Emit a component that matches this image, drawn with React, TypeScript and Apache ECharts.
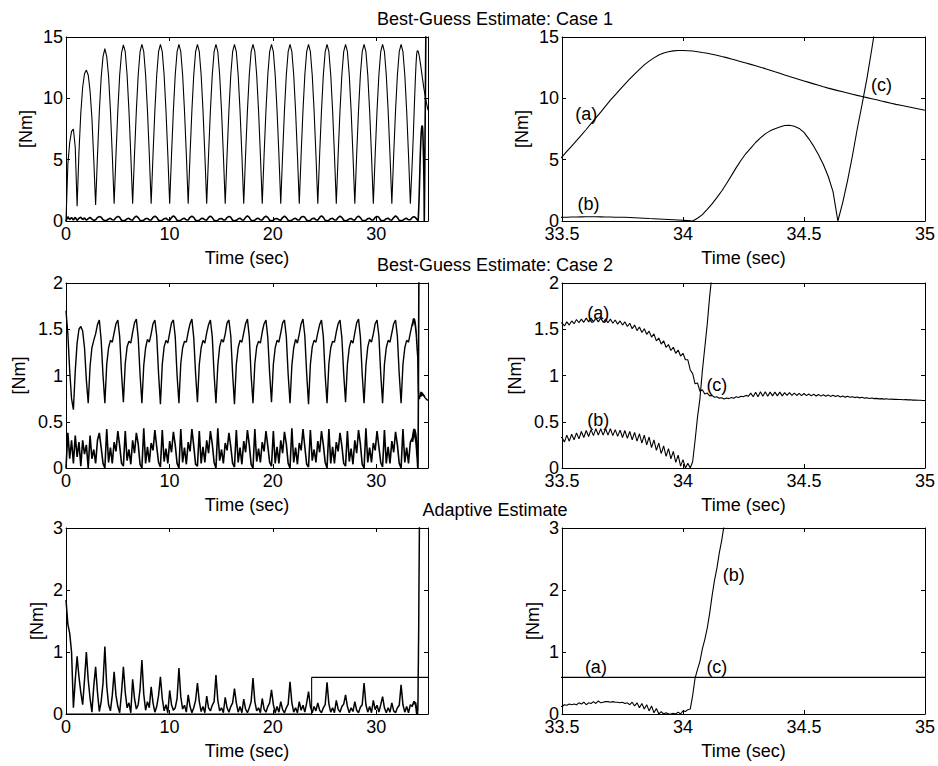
import React, { useEffect, useRef } from "react";
import * as echarts from "echarts";

// ---------- sampling of the traces (seconds) ----------
const BODY_STEP = 0.179; // coarse samples, t = 0, 0.179, 0.358, ...
const FINE_START = 33.5; // fine samples start here
const CASE1_FINE_STEP = 0.02;
const FINE_STEP = 0.01;

// ---------- texts / axes ----------
const TITLES = ["Best-Guess Estimate: Case 1", "Best-Guess Estimate: Case 2", "Adaptive Estimate"];
const X_NAME = "Time (sec)";
const Y_NAME = "[Nm]";
const LEFT_X_RANGE = [0, 35, 10];
const RIGHT_X_RANGE = [33.5, 35, 0.5];
const Y_RANGES = [
  [0, 15, 5],
  [0, 2, 0.5],
  [0, 3, 1],
];

// ---------- Case 1 ----------
const CASE1_A_BODY = [
  0, 4.6, 6.4, 7.3, 7.5, 6.0, 1.2, 5.6, 8.8, 10.9,
  12.0, 12.3, 11.9, 10.6, 8.4, 5.0, 1.3, 5.3, 8.9, 11.7,
  13.4, 14.05, 13.4, 11.8, 9.0, 5.4,
  1.4, 5.4, 9.0, 11.9, 13.7, 14.35, 13.8, 11.9, 9.0, 5.4,
  1.4, 5.4, 9.0, 11.9, 13.8, 14.4, 13.8, 11.9, 9.0, 5.4,
  1.4, 5.4, 9.0, 11.9, 13.8, 14.4, 13.8, 11.9, 9.0, 5.4,
  1.4, 5.4, 9.0, 11.9, 13.8, 14.4, 13.8, 11.9, 9.0, 5.4,
  1.4, 5.4, 9.0, 11.9, 13.8, 14.4, 13.8, 11.9, 9.0, 5.4,
  1.4, 5.4, 9.0, 11.9, 13.8, 14.4, 13.8, 11.9, 9.0, 5.4,
  1.4, 5.4, 9.0, 11.9, 13.8, 14.4, 13.8, 11.9, 9.0, 5.4,
  1.4, 5.4, 9.0, 11.9, 13.8, 14.4, 13.8, 11.9, 9.0, 5.4,
  1.4, 5.4, 9.0, 11.9, 13.8, 14.4, 13.8, 11.9, 9.0, 5.4,
  1.4, 5.4, 9.0, 11.9, 13.8, 14.4, 13.8, 11.9, 9.0, 5.4,
  1.4, 5.4, 9.0, 11.9, 13.8, 14.4, 13.8, 11.9, 9.0, 5.4,
  1.4, 5.4, 9.0, 11.9, 13.8, 14.4, 13.8, 11.9, 9.0, 5.4,
  1.4, 5.4, 9.0, 11.9, 13.8, 14.4, 13.8, 11.9, 9.0, 5.4,
  1.4, 5.4, 9.0, 11.9, 13.8, 14.4, 13.8, 11.9, 9.0, 5.4,
  1.4, 5.4, 9.0, 11.9, 13.8, 14.4, 13.8, 11.9, 9.0, 5.4,
  1.4, 5.4, 9.0, 11.9, 13.8, 14.4, 13.8, 11.9, 9.0, 5.4,
  1.4,
];
const CASE1_A_FINE = [
  5.23, 5.67, 6.11, 6.55, 7.0, 7.46, 7.93, 8.4, 8.88, 9.37,
  9.85, 10.29, 10.73, 11.16, 11.58, 11.98, 12.36, 12.73, 13.03, 13.3,
  13.54, 13.7, 13.8, 13.87, 13.9, 13.9, 13.88, 13.86, 13.8, 13.73,
  13.67, 13.6, 13.51, 13.41, 13.32, 13.21, 13.1, 12.99, 12.88, 12.77,
  12.66, 12.54, 12.42, 12.29, 12.16, 12.04, 11.91, 11.78, 11.66, 11.54,
  11.42, 11.3, 11.18, 11.06, 10.94, 10.83, 10.73, 10.63, 10.54, 10.44,
  10.34, 10.24, 10.15, 10.06, 9.97, 9.88, 9.78, 9.69, 9.6, 9.51,
  9.43, 9.35, 9.27, 9.19, 9.11, 9.03,
];
const CASE1_B_BODY = [
  0, 0.35, 0.12, 0.28, 0.08, 0.3, 0.05, 0.22, 0.3, 0.12,
  0.25, 0.06, 0.2, 0.3, 0.15, 0.05, 0.1, 0.28, 0.36, 0.3,
  0.1, 0.03, 0.06, 0.16, 0.22, 0.1,
  0.08, 0.28, 0.38, 0.3, 0.06, 0.02, 0.06, 0.18, 0.22, 0.1,
  0.07, 0.3, 0.4, 0.28, 0.05, 0.02, 0.07, 0.2, 0.21, 0.09,
  0.08, 0.29, 0.39, 0.3, 0.06, 0.01, 0.06, 0.19, 0.23, 0.1,
  0.06, 0.28, 0.41, 0.29, 0.05, 0.02, 0.07, 0.18, 0.22, 0.08,
  0.08, 0.3, 0.39, 0.3, 0.06, 0.02, 0.06, 0.2, 0.22, 0.1,
  0.07, 0.29, 0.4, 0.28, 0.05, 0.01, 0.07, 0.19, 0.21, 0.09,
  0.08, 0.28, 0.38, 0.3, 0.06, 0.02, 0.06, 0.18, 0.23, 0.1,
  0.07, 0.3, 0.41, 0.29, 0.05, 0.02, 0.07, 0.2, 0.22, 0.08,
  0.08, 0.29, 0.39, 0.3, 0.06, 0.01, 0.06, 0.19, 0.21, 0.1,
  0.06, 0.28, 0.4, 0.28, 0.05, 0.02, 0.07, 0.18, 0.22, 0.09,
  0.08, 0.3, 0.38, 0.3, 0.06, 0.02, 0.06, 0.2, 0.23, 0.1,
  0.07, 0.29, 0.41, 0.29, 0.05, 0.01, 0.07, 0.19, 0.22, 0.08,
  0.08, 0.28, 0.39, 0.3, 0.06, 0.02, 0.06, 0.18, 0.21, 0.1,
  0.07, 0.3, 0.4, 0.28, 0.05, 0.02, 0.07, 0.2, 0.22, 0.09,
  0.08, 0.29, 0.38, 0.3, 0.06, 0.01, 0.06, 0.19, 0.23, 0.1,
  0.07, 0.28, 0.41, 0.29, 0.05, 0.02, 0.07, 0.18, 0.22, 0.1,
  0.1,
];
const CASE1_B_FINE = [
  0.3, 0.31, 0.32, 0.33, 0.34, 0.35, 0.35, 0.35, 0.34, 0.33,
  0.32, 0.31, 0.3, 0.3, 0.29, 0.27, 0.25, 0.23, 0.2, 0.18,
  0.16, 0.14, 0.12, 0.1, 0.08, 0.06, 0.03, 0.0, 0.22, 0.52,
  0.95, 1.4, 1.9, 2.45, 3.06, 3.7, 4.35, 4.95, 5.5, 5.95,
  6.4, 6.78, 7.1, 7.35, 7.52, 7.66, 7.78, 7.8, 7.72, 7.55,
  7.22, 6.7, 6.1, 5.4, 4.6, 3.65, 2.4, 0.0, 1.5, 3.3,
  5.3, 7.5, 9.5, 11.6, 14.0, 16.5,
];

// ---------- Case 2 ----------
const CASE2_A_BODY = [
  1.7, 1.45, 1.05, 0.75, 0.63, 1.05, 1.35, 1.5, 1.53, 1.48,
  1.3, 0.95, 0.7, 1.1, 1.3, 1.38, 1.45, 1.55, 1.6, 1.38,
  1.0,
  0.7, 1.12, 1.3, 1.38, 1.36, 1.46, 1.56, 1.6, 1.42, 1.02,
  0.71, 1.13, 1.31, 1.37, 1.35, 1.47, 1.57, 1.61, 1.41, 1.01,
  0.7, 1.11, 1.3, 1.39, 1.36, 1.45, 1.56, 1.6, 1.43, 1.02,
  0.69, 1.12, 1.31, 1.38, 1.35, 1.46, 1.57, 1.6, 1.42, 1.0,
  0.7, 1.13, 1.3, 1.37, 1.36, 1.47, 1.56, 1.61, 1.41, 1.02,
  0.71, 1.12, 1.3, 1.38, 1.35, 1.46, 1.55, 1.6, 1.42, 1.01,
  0.7, 1.11, 1.31, 1.39, 1.36, 1.45, 1.57, 1.6, 1.43, 1.02,
  0.69, 1.12, 1.3, 1.38, 1.36, 1.46, 1.56, 1.61, 1.42, 1.0,
  0.7, 1.13, 1.31, 1.37, 1.35, 1.47, 1.56, 1.6, 1.41, 1.02,
  0.71, 1.12, 1.3, 1.38, 1.36, 1.46, 1.57, 1.6, 1.42, 1.01,
  0.7, 1.11, 1.3, 1.39, 1.35, 1.45, 1.56, 1.61, 1.43, 1.02,
  0.69, 1.12, 1.31, 1.38, 1.36, 1.46, 1.55, 1.6, 1.42, 1.0,
  0.7, 1.13, 1.3, 1.37, 1.36, 1.47, 1.56, 1.6, 1.41, 1.02,
  0.71, 1.12, 1.3, 1.38, 1.35, 1.46, 1.57, 1.61, 1.42, 1.01,
  0.7, 1.11, 1.31, 1.39, 1.36, 1.45, 1.56, 1.6, 1.43, 1.02,
  0.7, 1.12, 1.3, 1.38, 1.36, 1.46, 1.56, 1.6, 1.42, 1.01,
  0.7, 1.12, 1.3, 1.38, 1.36, 1.46,
];
const CASE2_A_FINE = [
  1.57, 1.535, 1.58, 1.545, 1.59, 1.56, 1.605, 1.57, 1.61, 1.575,
  1.62, 1.58, 1.62, 1.58, 1.62, 1.58, 1.62, 1.575, 1.61, 1.57,
  1.61, 1.565, 1.6, 1.555, 1.59, 1.545, 1.58, 1.53, 1.565, 1.505,
  1.545, 1.485, 1.525, 1.465, 1.505, 1.445, 1.48, 1.415, 1.45, 1.375,
  1.405, 1.34, 1.375, 1.305, 1.335, 1.27, 1.305, 1.24, 1.275, 1.21,
  1.24, 1.17, 1.17, 1.06, 1.02, 0.91, 0.92, 0.83, 0.845, 0.8,
  0.81, 0.78, 0.785, 0.765, 0.77, 0.755, 0.76, 0.745, 0.757, 0.75,
  0.763, 0.755, 0.77, 0.763, 0.775, 0.77, 0.785, 0.775, 0.81, 0.77,
  0.82, 0.77, 0.825, 0.775, 0.825, 0.775, 0.82, 0.78, 0.82, 0.78,
  0.82, 0.78, 0.815, 0.785, 0.815, 0.785, 0.81, 0.784, 0.807, 0.783,
  0.805, 0.782, 0.8, 0.78, 0.798, 0.778, 0.795, 0.777, 0.792, 0.776,
  0.79, 0.774, 0.787, 0.772, 0.783, 0.768, 0.778, 0.766, 0.775, 0.764,
  0.771, 0.761, 0.767, 0.758, 0.764, 0.755, 0.759, 0.752, 0.756, 0.75,
  0.753, 0.747, 0.75, 0.745, 0.748, 0.744, 0.746, 0.742, 0.743, 0.74,
  0.741, 0.738, 0.739, 0.736, 0.737, 0.734, 0.735, 0.732, 0.733, 0.73,
  0.73,
];
const CASE2_B_BODY = [
  0.0, 0.38, 0.1, 0.3, 0.05, 0.35, 0.12, 0.28, 0.02, 0.3,
  0.15, 0.25, 0.0, 0.35, 0.1, 0.2, 0.05, 0.3, 0.38, 0.22,
  0.05,
  0.0, 0.42, 0.06, 0.22, 0.05, 0.28, 0.18, 0.4, 0.24, 0.05,
  0.02, 0.4, 0.08, 0.2, 0.04, 0.3, 0.16, 0.38, 0.26, 0.04,
  0.0, 0.43, 0.05, 0.23, 0.06, 0.27, 0.19, 0.41, 0.23, 0.06,
  0.01, 0.41, 0.07, 0.21, 0.05, 0.29, 0.17, 0.39, 0.25, 0.05,
  0.0, 0.42, 0.06, 0.22, 0.04, 0.28, 0.18, 0.42, 0.24, 0.04,
  0.02, 0.4, 0.05, 0.23, 0.06, 0.3, 0.16, 0.4, 0.26, 0.06,
  0.0, 0.43, 0.08, 0.2, 0.05, 0.27, 0.19, 0.38, 0.23, 0.05,
  0.01, 0.41, 0.06, 0.22, 0.04, 0.29, 0.17, 0.41, 0.25, 0.04,
  0.0, 0.42, 0.07, 0.21, 0.06, 0.28, 0.18, 0.4, 0.24, 0.06,
  0.02, 0.4, 0.05, 0.23, 0.05, 0.3, 0.16, 0.39, 0.26, 0.05,
  0.0, 0.43, 0.06, 0.22, 0.04, 0.27, 0.19, 0.42, 0.23, 0.04,
  0.01, 0.41, 0.08, 0.2, 0.06, 0.29, 0.17, 0.4, 0.25, 0.06,
  0.0, 0.42, 0.05, 0.23, 0.05, 0.28, 0.18, 0.38, 0.24, 0.05,
  0.02, 0.4, 0.07, 0.21, 0.04, 0.3, 0.16, 0.41, 0.26, 0.04,
  0.0, 0.43, 0.06, 0.22, 0.06, 0.27, 0.19, 0.4, 0.23, 0.06,
  0.01, 0.41, 0.05, 0.23, 0.05, 0.29, 0.17, 0.39, 0.25, 0.05,
  0.0, 0.42, 0.06, 0.22, 0.05, 0.28,
];
const CASE2_B_FINE = [
  0.33, 0.28, 0.355, 0.29, 0.365, 0.305, 0.38, 0.315, 0.395, 0.33,
  0.405, 0.34, 0.415, 0.35, 0.425, 0.355, 0.425, 0.355, 0.425, 0.355,
  0.425, 0.35, 0.415, 0.342, 0.41, 0.33, 0.405, 0.32, 0.395, 0.305,
  0.385, 0.29, 0.37, 0.27, 0.355, 0.25, 0.335, 0.22, 0.305, 0.19,
  0.27, 0.155, 0.24, 0.125, 0.21, 0.1, 0.18, 0.06, 0.14, 0.02,
  0.09, 0.0, 0.05, 0.0, 0.07, 0.3, 0.55, 0.75, 1.05, 1.3,
  1.55, 1.85, 2.1,
];

// ---------- Adaptive ----------
const ADAPT_A: [number, number][] = [
  [0, 0],
  [23.75, 0],
  [23.75, 0.59],
  [35, 0.59],
];
const ADAPT_B_BODY = [
  1.84, 1.45, 1.3, 1.0, 0.1, 0.55, 0.93, 0.6, 0.35, 0.15,
  0.55, 1.0, 0.55, 0.25, 0.03, 0.45, 0.76, 0.35, 0.04, 0.2,
  0.5,
  1.09, 0.45, 0.15, 0.05, 0.3, 0.68, 0.3, 0.12, 0.02, 0.35,
  0.76, 0.35, 0.1, 0.18, 0.02, 0.56, 0.25, 0.08, 0.15, 0.4,
  0.87, 0.32, 0.06, 0.2, 0.1, 0.44, 0.18, 0.03, 0.12, 0.3,
  0.6, 0.25, 0.05, 0.15, 0.02, 0.38, 0.15, 0.06, 0.1, 0.25,
  0.74, 0.28, 0.08, 0.14, 0.03, 0.31, 0.12, 0.02, 0.1, 0.22,
  0.5, 0.2, 0.04, 0.12, 0.02, 0.29, 0.1, 0.05, 0.14, 0.2,
  0.63, 0.22, 0.05, 0.1, 0.02, 0.27, 0.1, 0.03, 0.12, 0.18,
  0.41, 0.18, 0.03, 0.12, 0.02, 0.24, 0.08, 0.02, 0.1, 0.2,
  0.58, 0.2, 0.05, 0.1, 0.02, 0.25, 0.08, 0.03, 0.12, 0.18,
  0.39, 0.15, 0.02, 0.12, 0.03, 0.2, 0.07, 0.02, 0.1, 0.16,
  0.52, 0.18, 0.03, 0.1, 0.02, 0.2, 0.06, 0.14, 0.03, 0.18,
  0.36, 0.12, 0.02, 0.12, 0.05, 0.18, 0.06, 0.02, 0.1, 0.15,
  0.51, 0.16, 0.03, 0.1, 0.02, 0.22, 0.08, 0.03, 0.12, 0.16,
  0.31, 0.12, 0.02, 0.1, 0.04, 0.2, 0.06, 0.02, 0.11, 0.15,
  0.5, 0.15, 0.03, 0.12, 0.02, 0.22, 0.07, 0.14, 0.03, 0.15,
  0.28, 0.1, 0.02, 0.1, 0.03, 0.18, 0.05, 0.02, 0.1, 0.14,
  0.47, 0.15, 0.03, 0.12, 0.02, 0.15,
];
const ADAPT_B_FINE = [
  0.12, 0.15, 0.14, 0.16, 0.15, 0.16, 0.15, 0.18, 0.16, 0.19,
  0.15, 0.18, 0.17, 0.2, 0.17, 0.21, 0.18, 0.19, 0.2, 0.2,
  0.19, 0.2, 0.19, 0.19, 0.18, 0.19, 0.17, 0.18, 0.15, 0.19,
  0.13, 0.18, 0.1, 0.17, 0.08, 0.15, 0.05, 0.13, 0.02, 0.09,
  0.0, 0.04, 0.0, 0.02, 0.0, 0.0, 0.01, 0.0, 0.03, 0.0,
  0.05, 0.04, 0.07, 0.08, 0.3, 0.58, 0.72, 0.85, 1.05, 1.2,
  1.38, 1.62, 1.9, 2.15, 2.35, 2.6, 2.8, 3.05, 3.3,
];

// ---------- curve labels (text, time, value) ----------
const CASE1_LABELS: [string, number, number][] = [
  ["(a)", 33.6, 8.7],
  ["(b)", 33.61, 1.4],
  ["(c)", 34.82, 11.07],
];
const CASE2_LABELS: [string, number, number][] = [
  ["(a)", 33.65, 1.68],
  ["(b)", 33.65, 0.515],
  ["(c)", 34.14, 0.894],
];
const ADAPT_LABELS: [string, number, number][] = [
  ["(a)", 33.64, 0.754],
  ["(c)", 34.14, 0.754],
  ["(b)", 34.21, 2.235],
];
const ROW_LABELS = [CASE1_LABELS, CASE2_LABELS, ADAPT_LABELS];

// ---------- layout / style ----------
const FONT = "'Liberation Sans', Arial, Helvetica, sans-serif";
const FS = 18;
const COL_LEFT = [66, 562];
const COL_W = [362, 364];
const ROW_TOP = [37, 283, 528];
const ROW_H = [184, 185, 186];
const Y_NAME_GAP = [31, 38, 20];
const X_NAME_GAP = 28;
const TITLE_X = 495;
const TITLE_OFFSET = 18;

type Pt = [number, number];
const r3 = (v: number) => Math.round(v * 1000) / 1000;
const bodyPts = (vals: number[]): Pt[] => vals.map((v, i) => [r3(i * BODY_STEP), v]);
const finePts = (vals: number[], step: number): Pt[] => vals.map((v, i) => [r3(FINE_START + i * step), v]);

function textEl(text: string, x: number, y: number) {
  return {
    type: "text",
    x,
    y,
    silent: true,
    style: {
      text,
      fill: "#000",
      font: `${FS}px ${FONT}`,
      align: "center",
      verticalAlign: "middle",
      textAlign: "center",
      textVerticalAlign: "middle",
    },
  };
}

function makeAxis(kind: "x" | "y", pos: string, g: number, range: number[], labels: boolean, extra: any = {}) {
  return {
    type: "value",
    gridIndex: g,
    position: pos,
    min: range[0],
    max: range[1],
    interval: range[2],
    axisLine: { show: true, onZero: false, lineStyle: { color: "#000", width: 1 } },
    axisTick: { show: true, inside: true, length: 4, lineStyle: { color: "#000", width: 1 } },
    axisLabel: {
      show: labels,
      color: "#000",
      fontSize: FS,
      fontFamily: FONT,
      margin: kind === "x" ? 4 : 3,
    },
    splitLine: { show: false },
    ...extra,
  };
}

function buildOption() {
  const rows = [
    [
      { data: [...bodyPts(CASE1_A_BODY), ...finePts(CASE1_A_FINE, CASE1_FINE_STEP)], w: 1.1 },
      { data: [...bodyPts(CASE1_B_BODY), ...finePts(CASE1_B_FINE, CASE1_FINE_STEP)], w: 1.6 },
    ],
    [
      { data: [...bodyPts(CASE2_A_BODY), ...finePts(CASE2_A_FINE, FINE_STEP)], w: 1.4 },
      { data: [...bodyPts(CASE2_B_BODY), ...finePts(CASE2_B_FINE, FINE_STEP)], w: 1.6 },
    ],
    [
      { data: ADAPT_A, w: 1.1 },
      { data: [...bodyPts(ADAPT_B_BODY), ...finePts(ADAPT_B_FINE, FINE_STEP)], w: 1.5 },
    ],
  ];

  const grid: any[] = [];
  const xAxis: any[] = [];
  const yAxis: any[] = [];
  const series: any[] = [];

  rows.forEach((lines, r) => {
    [0, 1].forEach((c) => {
      const g = r * 2 + c;
      grid.push({ left: COL_LEFT[c], top: ROW_TOP[r], width: COL_W[c], height: ROW_H[r], show: false });
      const xr = c === 0 ? LEFT_X_RANGE : RIGHT_X_RANGE;
      const yr = Y_RANGES[r];
      const nameStyle = { color: "#000", fontSize: FS, fontFamily: FONT };
      xAxis.push(
        makeAxis("x", "bottom", g, xr, true, {
          name: X_NAME,
          nameLocation: "middle",
          nameGap: X_NAME_GAP,
          nameTextStyle: nameStyle,
          axisLabel: {
            show: true,
            color: "#000",
            fontSize: FS,
            fontFamily: FONT,
            margin: 4,
            showMaxLabel: c === 1,
          },
        })
      );
      xAxis.push(makeAxis("x", "top", g, xr, false));
      yAxis.push(
        makeAxis("y", "left", g, yr, true, {
          name: Y_NAME,
          nameLocation: "middle",
          nameGap: Y_NAME_GAP[r],
          nameRotate: 90,
          nameTextStyle: nameStyle,
        })
      );
      yAxis.push(makeAxis("y", "right", g, yr, false));

      lines.forEach((ln) => {
        series.push({
          type: "line",
          xAxisIndex: 2 * g,
          yAxisIndex: 2 * g,
          data: ln.data,
          showSymbol: false,
          symbol: "none",
          clip: true,
          silent: true,
          lineStyle: { color: "#000", width: c === 0 ? ln.w : 1.1 },
        });
      });
    });
  });

  const graphic = TITLES.map((t, r) => textEl(t, TITLE_X, ROW_TOP[r] - TITLE_OFFSET));

  return {
    animation: false,
    backgroundColor: "#fff",
    grid,
    xAxis,
    yAxis,
    series,
    graphic,
  };
}

export default function App() {
  const ref = useRef<HTMLDivElement>(null);
  useEffect(() => {
    if (!ref.current) return;
    const chart = echarts.init(ref.current, undefined, { renderer: "svg" });
    const option: any = buildOption();
    chart.setOption(option);
    // curve labels placed through the right-hand panels' own scales
    const labelEls: any[] = [];
    ROW_LABELS.forEach((labels, r) => {
      const g = r * 2 + 1;
      labels.forEach(([txt, x, y]) => {
        const p = chart.convertToPixel({ xAxisIndex: 2 * g, yAxisIndex: 2 * g } as any, [x, y]) as number[];
        labelEls.push(textEl(txt, p[0], p[1]));
      });
    });
    chart.setOption({ graphic: [...option.graphic, ...labelEls] });
    return () => chart.dispose();
  }, []);
  return (
    <div
      ref={ref}
      style={{ position: "absolute", left: 0, top: 0, width: 938, height: 766, background: "#fff" }}
    />
  );
}
